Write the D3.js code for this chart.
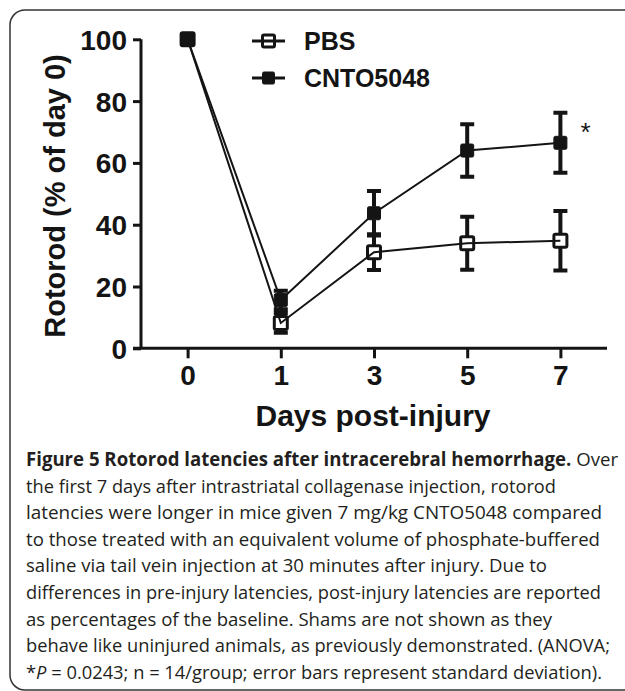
<!DOCTYPE html>
<html>
<head>
<meta charset="utf-8">
<script src="https://cdn.jsdelivr.net/npm/d3@7"></script>
<style>
    html, body { margin: 0; padding: 0; background: #fff; overflow: hidden; }
    svg { display: block; }
</style>
</head>
<body>
<div id="chart"></div>
<script>
// data
const days = ["0", "1", "3", "5", "7"];
const pbsMean = [100, 8.2, 31.1, 34.0, 34.8];
const pbsSd = [0, 3.2, 5.8, 8.6, 9.6];
const cntoMean = [100, 15.6, 43.7, 64.0, 66.5];
const cntoSd = [0, 3.0, 7.2, 8.5, 9.7];
const yTicks = [0, 20, 40, 60, 80, 100];
const seriesNames = ["PBS", "CNTO5048"];
const captionLines = [
    [{t: "Figure 5 Rotorod latencies after intracerebral hemorrhage.", b: true}, {t: " Over"}],
    [{t: "the first 7 days after intrastriatal collagenase injection, rotorod"}],
    [{t: "latencies were longer in mice given 7 mg/kg CNTO5048 compared"}],
    [{t: "to those treated with an equivalent volume of phosphate-buffered"}],
    [{t: "saline via tail vein injection at 30 minutes after injury. Due to"}],
    [{t: "differences in pre-injury latencies, post-injury latencies are reported"}],
    [{t: "as percentages of the baseline. Shams are not shown as they"}],
    [{t: "behave like uninjured animals, as previously demonstrated. (ANOVA;"}],
    [{t: "*"}, {t: "P", i: true}, {t: " = 0.0243; n = 14/group; error bars represent standard deviation)."}]
];
const captionWidths = [592, 530, 576, 574, 521, 575, 526, 584, 576];

const WIDTH = 625, HEIGHT = 691;
const INK = "#141414";
const FONT = "'Liberation Sans', Arial, Helvetica, sans-serif";
const CAPTION_FONT = "'Open Sans', 'Noto Sans', sans-serif";
const PLOT = {left: 141, right: 607, top: 39.3, bottom: 348.3};

let svg = d3.select("#chart")
    .append("svg")
    .attr("width", WIDTH)
    .attr("height", HEIGHT);

// rounded frame, right and bottom edges fall outside the picture
svg.append("rect")
    .attr("x", 10).attr("y", 10)
    .attr("width", 660).attr("height", 680)
    .attr("rx", 15)
    .attr("fill", "none")
    .attr("stroke", "#333")
    .attr("stroke-width", 1.5);

let x = d3.scalePoint()
    .domain(days)
    .range([PLOT.left, PLOT.right])
    .padding(0.5);

let y = d3.scaleLinear()
    .domain([0, 100])
    .range([PLOT.bottom, PLOT.top]);

// y axis
let yAxis = svg.append("g")
    .attr("transform", "translate(" + PLOT.left + ",0)")
    .call(d3.axisLeft(y).tickValues(yTicks).tickSize(8).tickPadding(6));
yAxis.select(".domain").attr("d", "M0," + y(100) + "V" + y(0));

// x axis
let xAxis = svg.append("g")
    .attr("transform", "translate(0," + PLOT.bottom + ")")
    .call(d3.axisBottom(x).tickSize(10).tickPadding(7));
xAxis.select(".domain").attr("d", "M133,0H" + PLOT.right);

svg.selectAll(".domain, .tick line")
    .attr("stroke", INK)
    .attr("stroke-width", 3);
svg.selectAll(".tick text")
    .attr("fill", INK)
    .style("font-family", FONT)
    .style("font-weight", "bold")
    .style("font-size", "28px");
yAxis.selectAll(".tick text").attr("dy", "0.36em");
xAxis.selectAll(".tick text").attr("dy", "0.72em");

// axis titles
svg.append("text")
    .attr("transform", "translate(65,196) rotate(-90)")
    .style("text-anchor", "middle")
    .style("font-family", FONT)
    .style("font-weight", "bold")
    .style("font-size", "29px")
    .attr("fill", INK)
    .text("Rotorod (% of day 0)");

svg.append("text")
    .attr("x", 373)
    .attr("y", 426)
    .style("text-anchor", "middle")
    .style("font-family", FONT)
    .style("font-weight", "bold")
    .style("font-size", "30px")
    .attr("fill", INK)
    .text("Days post-injury");

const MARK = 13;

function drawSeries(means, sds, filled) {
    let data = days.map((d, i) => ({day: d, m: means[i], sd: sds[i]}));
    let g = svg.append("g");

    // error bars outside the marker
    let bars = g.selectAll(".err")
        .data(data.filter(d => d.sd > 0))
        .enter().append("g");
    bars.append("path")
        .attr("d", d => {
            let cx = x(d.day);
            let top = y(d.m + d.sd), bot = y(d.m - d.sd);
            let half = MARK / 2;
            return "M" + cx + "," + top + "V" + (y(d.m) - half) +
                "M" + cx + "," + (y(d.m) + half) + "V" + bot +
                "M" + (cx - 7) + "," + top + "H" + (cx + 7) +
                "M" + (cx - 7) + "," + bot + "H" + (cx + 7);
        })
        .attr("fill", "none")
        .attr("stroke", INK)
        .attr("stroke-width", 4);

    g.append("path")
        .datum(data)
        .attr("fill", "none")
        .attr("stroke", INK)
        .attr("stroke-width", 2)
        .attr("d", d3.line().x(d => x(d.day)).y(d => y(d.m)));

    g.selectAll("rect")
        .data(data)
        .enter().append("rect")
        .attr("x", d => x(d.day) - MARK / 2)
        .attr("y", d => y(d.m) - MARK / 2)
        .attr("width", MARK)
        .attr("height", MARK)
        .attr("rx", 1.5)
        .attr("fill", filled ? INK : "none")
        .attr("stroke", INK)
        .attr("stroke-width", filled ? 1 : 3);
}

drawSeries(pbsMean, pbsSd, false);
drawSeries(cntoMean, cntoSd, true);

// significance mark at day 7
svg.append("text")
    .attr("x", x("7") + 20)
    .attr("y", y(cntoMean[4] + cntoSd[4]) + 28)
    .style("font-family", FONT)
    .style("font-size", "26px")
    .attr("fill", INK)
    .text("*");

// legend
let legend = svg.append("g")
    .selectAll("g")
    .data(seriesNames)
    .enter().append("g")
    .attr("transform", (d, i) => "translate(252," + (41 + i * 37) + ")");
legend.append("path")
    .attr("d", "M0,0H33")
    .attr("stroke", INK)
    .attr("stroke-width", 3);
legend.append("rect")
    .attr("x", 16.5 - 6).attr("y", -6)
    .attr("width", 12).attr("height", 12)
    .attr("rx", 1.5)
    .attr("fill", (d, i) => i ? INK : "none")
    .attr("stroke", INK)
    .attr("stroke-width", (d, i) => i ? 1 : 3);
legend.append("text")
    .attr("x", 52)
    .attr("y", 9)
    .style("font-family", FONT)
    .style("font-weight", "bold")
    .style("font-size", "25px")
    .attr("fill", INK)
    .text(d => d);

// caption
let caption = svg.append("g")
    .selectAll("text")
    .data(captionLines)
    .enter().append("text")
    .attr("x", 26)
    .attr("y", (d, i) => 466 + i * 26.6)
    .attr("textLength", (d, i) => captionWidths[i])
    .attr("lengthAdjust", "spacingAndGlyphs")
    .style("font-family", CAPTION_FONT)
    .style("font-size", "19px")
    .attr("fill", "#231f20");
caption.selectAll("tspan")
    .data(d => d)
    .enter().append("tspan")
    .style("font-weight", d => d.b ? "bold" : "normal")
    .style("font-style", d => d.i ? "italic" : "normal")
    .text(d => d.t);
</script>
</body>
</html>
